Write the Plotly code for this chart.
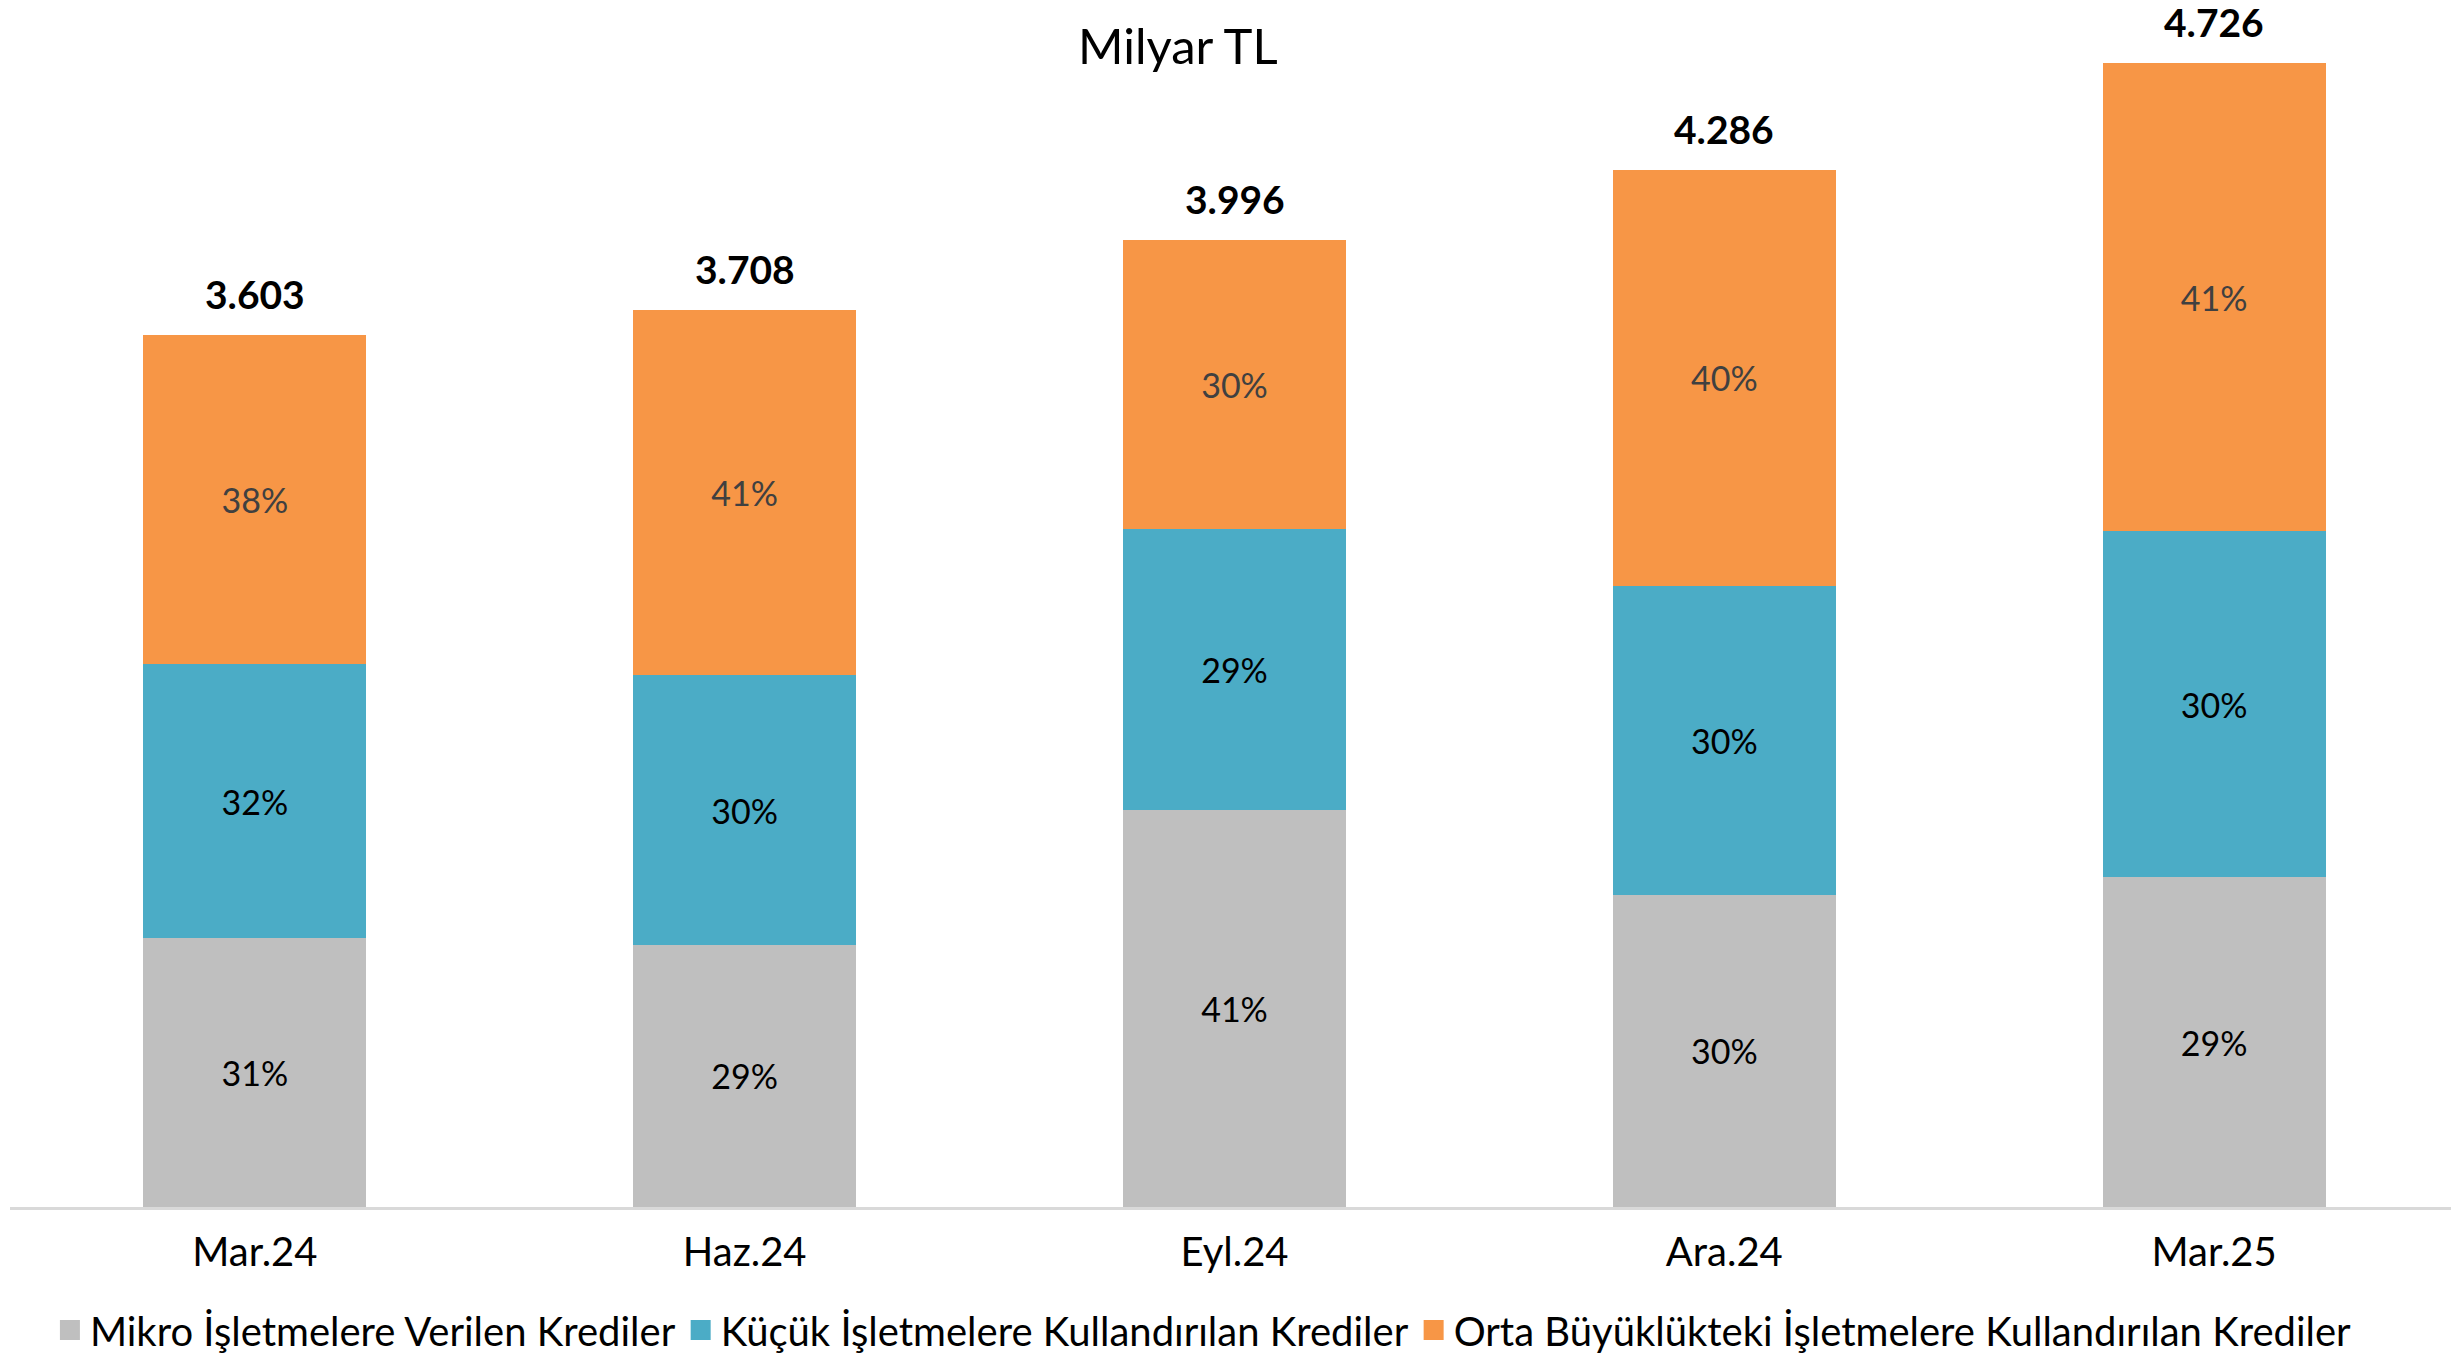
import plotly.graph_objects as go

categories = ["Mar.24", "Haz.24", "Eyl.24", "Ara.24", "Mar.25"]
series_names = [
    "Mikro İşletmelere Verilen Krediler",
    "Küçük İşletmelere Kullandırılan Krediler",
    "Orta Büyüklükteki İşletmelere Kullandırılan Krediler",
]
mikro = [1110, 1083, 1640, 1290, 1362]
kucuk = [1135, 1115, 1160, 1277, 1433]
orta = [1358, 1510, 1196, 1719, 1931]
mikro_pct = ["31%", "29%", "41%", "30%", "29%"]
kucuk_pct = ["32%", "30%", "29%", "30%", "30%"]
orta_pct = ["38%", "41%", "30%", "40%", "41%"]
totals = [3603, 3708, 3996, 4286, 4726]
total_labels = ["3.603", "3.708", "3.996", "4.286", "4.726"]
title_text = "Milyar TL"

FONT = "Lato"
colors = ["#BFBFBF", "#4BACC6", "#F79646"]
text_colors = ["#000000", "#000000", "#404040"]

fig = go.Figure()
for name, vals, labels, col, tcol in zip(
    series_names, [mikro, kucuk, orta], [mikro_pct, kucuk_pct, orta_pct], colors, text_colors
):
    fig.add_trace(go.Bar(
        x=categories, y=vals, name=name, text=labels,
        textposition="inside", insidetextanchor="middle", textangle=0,
        textfont=dict(family=FONT, size=34, color=tcol),
        marker=dict(color=col, line=dict(width=0)),
        hoverinfo="skip", showlegend=False, legendgroup=name,
    ))

# legend entries with larger square swatches
for name, col in zip(series_names, colors):
    fig.add_trace(go.Scatter(
        x=[None], y=[None], mode="markers", name=name, legendgroup=name,
        marker=dict(symbol="square", size=24, color=col, line=dict(width=4, color=col)),
        hoverinfo="skip", showlegend=True,
    ))

for c, t, lab in zip(categories, totals, total_labels):
    fig.add_annotation(x=c, y=t, text="<b>" + lab + "</b>", showarrow=False,
                       yanchor="middle", yshift=41,
                       font=dict(family=FONT, size=39, color="#000000"))

fig.add_annotation(xref="paper", yref="paper", x=0.477, y=0.969, text=title_text,
                   showarrow=False, xanchor="center", yanchor="middle",
                   font=dict(family=FONT, size=49, color="#000000"))

fig.update_layout(
    width=2451, height=1360,
    barmode="stack", bargap=0.545,
    plot_bgcolor="white", paper_bgcolor="white",
    margin=dict(l=2, r=0, t=0, b=161),
    showlegend=True,
    legend=dict(orientation="h", x=0.0163, xanchor="left", y=-0.1026, yanchor="middle",
                font=dict(family=FONT, size=40, color="#000000"),
                traceorder="normal", itemwidth=30, bgcolor="rgba(0,0,0,0)"),
    xaxis=dict(showgrid=False, showline=True, linecolor="#D9D9D9", linewidth=3,
               ticks="", tickfont=dict(family=FONT, size=40, color="#000000"),
               ticklabelstandoff=8, fixedrange=True),
    yaxis=dict(range=[0, 4955], visible=False, showgrid=False, zeroline=False, fixedrange=True),
)

fig.write_html("out.html")
